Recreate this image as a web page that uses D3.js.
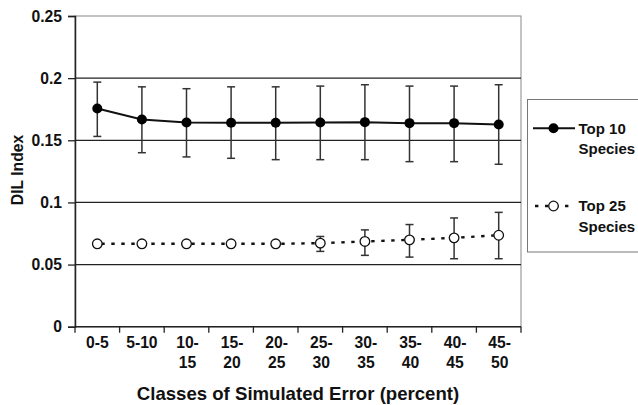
<!DOCTYPE html>
<html><head><meta charset="utf-8">
<script src="https://cdn.jsdelivr.net/npm/d3@7"></script>
<style>body{margin:0;background:#fff}svg{display:block;font-family:"Liberation Sans",Arial,sans-serif;font-weight:bold}</style>
</head><body><svg id="c" width="638" height="405"></svg>
<script>
const categories = ["0-5","5-10","10-15","15-20","20-25","25-30","30-35","35-40","40-45","45-50"];
const top10 = [0.1755,0.1667,0.1643,0.1641,0.1641,0.1643,0.1646,0.1638,0.1638,0.1627];
const top10Low = [0.1531,0.1400,0.1366,0.1355,0.1344,0.1344,0.1344,0.1328,0.1328,0.1307];
const top10High = [0.1968,0.1930,0.1915,0.1930,0.1930,0.1936,0.1947,0.1936,0.1936,0.1947];
const top25 = [0.0667,0.0667,0.0667,0.0667,0.0667,0.0672,0.0686,0.0699,0.0715,0.0736];
const top25Low = [0.0667,0.0667,0.0667,0.0667,0.0667,0.0606,0.0574,0.0560,0.0547,0.0547];
const top25High = [0.0667,0.0667,0.0667,0.0667,0.0667,0.0726,0.0779,0.0822,0.0875,0.0920];
const yTicks = [0,0.05,0.1,0.15,0.2,0.25];
const yTickLabels = ["0","0.05","0.1","0.15","0.2","0.25"];

const svg = d3.select("#c");
const L=75,R=521,T=16,B=326.7;
const FS=15.7;
const x = d3.scaleBand().domain(categories).range([L,R]);
const y = d3.scaleLinear().domain([0,0.25]).range([B,T]);

// frame
svg.append("rect").attr("x",L).attr("y",T).attr("width",R-L).attr("height",B-T).attr("fill","none").attr("stroke","#888").attr("stroke-width",1);
// gridlines
svg.append("g").selectAll("line").data(yTicks.filter(d=>d>0&&d<0.25)).join("line")
  .attr("x1",L).attr("x2",R).attr("y1",d=>y(d)).attr("y2",d=>y(d)).attr("stroke","#222").attr("stroke-width",1.3);

// y axis
const ya = svg.append("g").attr("transform",`translate(${L},0)`)
  .call(d3.axisLeft(y).tickValues(yTicks).tickFormat((d,i)=>yTickLabels[i]).tickSize(7).tickPadding(6));
ya.attr("font-size",FS).attr("font-family","Liberation Sans, Arial, sans-serif");
ya.select(".domain").attr("stroke","#222").attr("stroke-width",1.5);
ya.selectAll(".tick line").attr("stroke","#222").attr("stroke-width",1.3);
ya.selectAll("text").attr("font-size",FS).attr("font-weight","bold").attr("fill","#111");

// x axis
const xa = svg.append("g").attr("transform",`translate(0,${B})`);
xa.append("line").attr("x1",L).attr("x2",R).attr("y1",0).attr("y2",0).attr("stroke","#222").attr("stroke-width",1.5);
const bounds = categories.map(c=>x(c)).concat([R]);
xa.selectAll("line.tk").data(bounds).join("line").attr("class","tk")
  .attr("x1",d=>d).attr("x2",d=>d).attr("y1",0).attr("y2",6).attr("stroke","#222").attr("stroke-width",1.3);
const lab = xa.selectAll("text.lb").data(categories).join("text").attr("class","lb")
  .attr("text-anchor","middle").attr("font-size",FS).attr("fill","#111");
lab.each(function(d,i){
  const t=d3.select(this), c=x(d)+x.bandwidth()/2;
  if(i<2){ t.append("tspan").attr("x",c).attr("y",21.5).text(d); }
  else { const p=d.split("-");
    t.append("tspan").attr("x",c+1).attr("y",21.5).text(p[0]+"-");
    t.append("tspan").attr("x",c+1).attr("y",41.2).text(p[1]); }
});

// titles
svg.append("text").attr("x",298).attr("y",399.5).attr("text-anchor","middle").attr("font-size",18.6).attr("fill","#111").text("Classes of Simulated Error (percent)");
svg.append("text").attr("transform","translate(23.3,170) rotate(-90)").attr("text-anchor","middle").attr("font-size",FS).attr("fill","#111").text("DIL Index");

const cx = d=>x(d)+x.bandwidth()/2;
function errs(vals,lo,hi){
  const g=svg.append("g").attr("stroke","#333").attr("stroke-width",1.5);
  categories.forEach((c,i)=>{
    if(hi[i]-lo[i]<0.002) return;
    g.append("line").attr("x1",cx(c)).attr("x2",cx(c)).attr("y1",y(lo[i])).attr("y2",y(hi[i]));
    g.append("line").attr("x1",cx(c)-4).attr("x2",cx(c)+4).attr("y1",y(lo[i])).attr("y2",y(lo[i]));
    g.append("line").attr("x1",cx(c)-4).attr("x2",cx(c)+4).attr("y1",y(hi[i])).attr("y2",y(hi[i]));
  });
}
errs(top10,top10Low,top10High);
errs(top25,top25Low,top25High);

const line = d3.line().x((d,i)=>cx(categories[i])).y(d=>y(d));
svg.append("path").datum(top10).attr("d",line).attr("fill","none").attr("stroke","#111").attr("stroke-width",2);
svg.append("path").datum(top25).attr("d",line).attr("fill","none").attr("stroke","#111").attr("stroke-width",2.4).attr("stroke-dasharray","3.4,6.6").attr("stroke-dashoffset",-4);
svg.append("g").selectAll("circle").data(top10).join("circle").attr("cx",(d,i)=>cx(categories[i])).attr("cy",d=>y(d)).attr("r",5).attr("fill","#000");
svg.append("g").selectAll("circle").data(top25).join("circle").attr("cx",(d,i)=>cx(categories[i])).attr("cy",d=>y(d)).attr("r",4.8).attr("fill","#fff").attr("stroke","#111").attr("stroke-width",1.3);

// legend
const lg = svg.append("g");
lg.append("rect").attr("x",527.5).attr("y",99.5).attr("width",120).attr("height",152.5).attr("fill","#fff").attr("stroke","#777").attr("stroke-width",1);
lg.append("line").attr("x1",533).attr("x2",575).attr("y1",128.3).attr("y2",128.3).attr("stroke","#111").attr("stroke-width",2);
lg.append("circle").attr("cx",553.5).attr("cy",128.3).attr("r",5).attr("fill","#000");
lg.append("line").attr("x1",535).attr("x2",575).attr("y1",206).attr("y2",206).attr("stroke","#111").attr("stroke-width",2.4).attr("stroke-dasharray","3.4,6.6");
lg.append("circle").attr("cx",553.5).attr("cy",206).attr("r",4.8).attr("fill","#fff").attr("stroke","#111").attr("stroke-width",1.3);
[["Top 10",133.5],["Species",154],["Top 25",211],["Species",231.5]].forEach(([t,yy])=>{
  lg.append("text").attr("x",578.5).attr("y",yy).attr("font-size",15).attr("fill","#111").text(t);
});
</script></body></html>
